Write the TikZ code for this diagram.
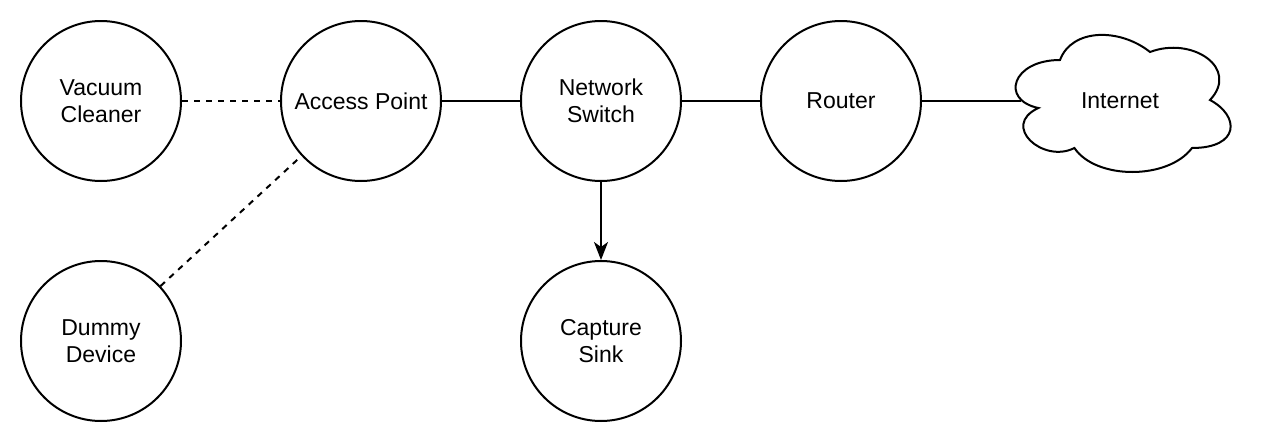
\documentclass[tikz,border=0pt]{standalone}
\usepackage{fontspec}
\setmainfont{Liberation Sans}
\usetikzlibrary{arrows.meta}
\begin{document}
\begin{tikzpicture}[x=1pt,y=-1pt,
  dev/.style={circle,draw,line width=2pt,minimum size=160pt,inner sep=0pt,
    align=center,font=\fontsize{23}{27}\selectfont},
  lbl/.style={align=center,font=\fontsize{23}{27}\selectfont},
  link/.style={line width=2pt},
  wifi/.style={line width=2pt,dash pattern=on 6pt off 6pt},
  feed/.style={line width=2pt,-{Stealth[length=18pt,width=14pt,inset=5pt]}}]
\useasboundingbox (0,0) rectangle (1262,442);
\node[dev] (vac) at (101,101) {Vacuum\\Cleaner};
\node[dev] (ap) at (361,101) {Access Point};
\node[dev] (sw) at (601,101) {Network\\Switch};
\node[dev] (rt) at (841,101) {Router};
\node[dev] (cap) at (601,341) {Capture\\Sink};
\node[dev] (dum) at (101,341) {Dummy\\Device};
% cloud
\draw[line width=2pt]
  (1060,60) .. controls (1012,60) and (1000,100) .. (1038.4,108)
  .. controls (1000,125.6) and (1043.2,164) .. (1074.4,148)
  .. controls (1096,180) and (1168,180) .. (1192,148)
  .. controls (1240,148) and (1240,116) .. (1210,100)
  .. controls (1240,68) and (1192,36) .. (1150,52)
  .. controls (1120,28) and (1072,28) .. (1060,60) -- cycle;
\node[lbl] (inet) at (1120,101) {Internet};
\coordinate (inetw) at (1021,101);
\draw[wifi] (vac) -- (ap);
\draw[wifi] (dum) -- (ap);
\draw[link] (ap) -- (sw);
\draw[link] (sw) -- (rt);
\draw[link] (rt) -- (inetw);
\draw[feed] (sw) -- (cap);
\end{tikzpicture}
\end{document}
